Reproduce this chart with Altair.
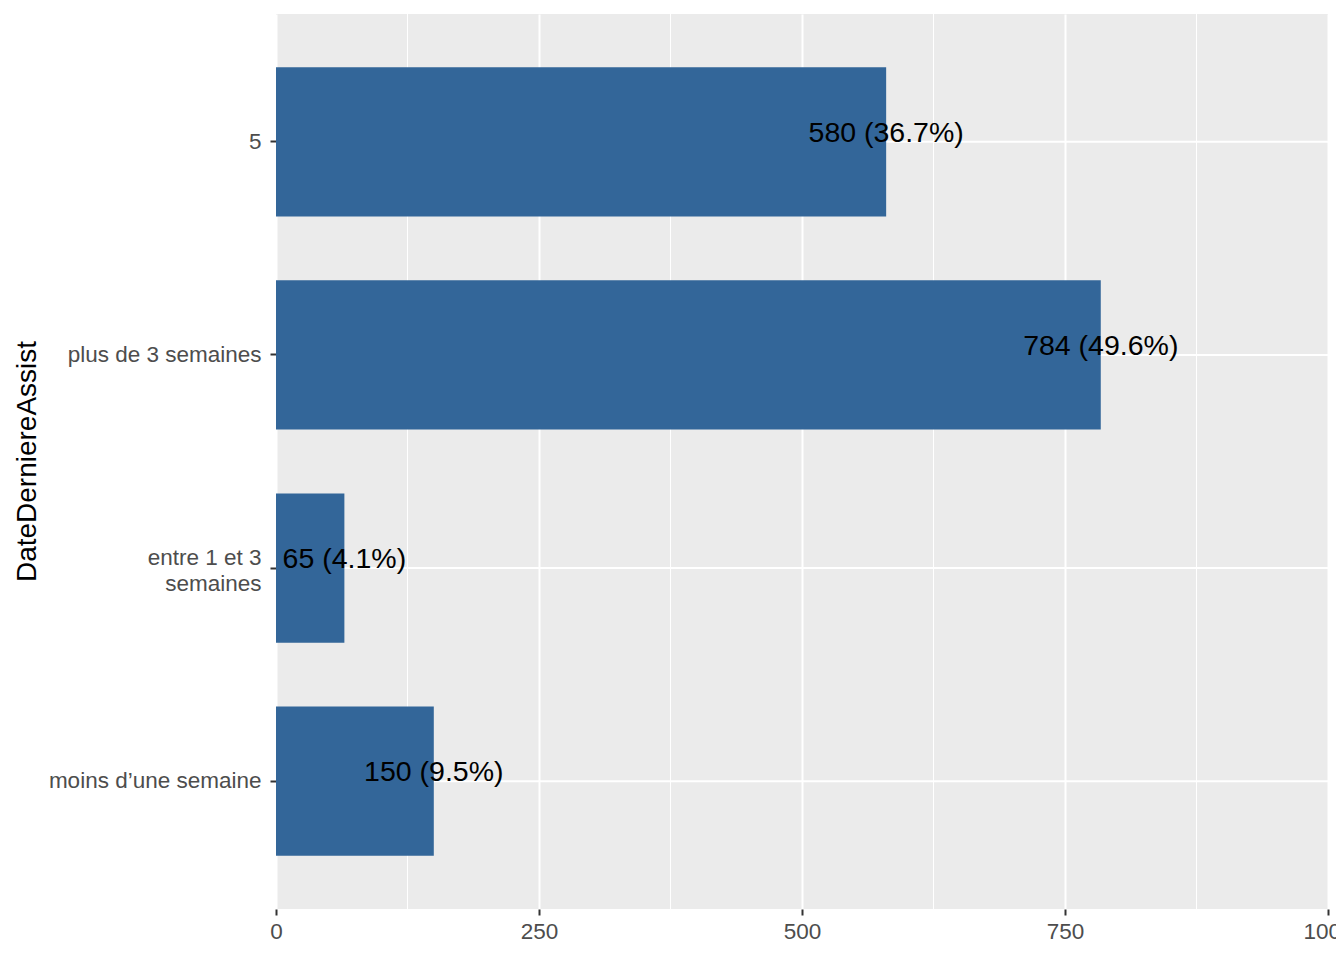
import altair as alt
import pandas as pd

categories = ["5", "plus de 3 semaines", "entre 1 et 3 semaines", "moins d\u2019une semaine"]
counts = [580, 784, 65, 150]
labels = ["580 (36.7%)", "784 (49.6%)", "65 (4.1%)", "150 (9.5%)"]
minor_ticks = [125, 375, 625, 875]
major_ticks = [0, 250, 500, 750, 1000]

df = pd.DataFrame({"cat": categories, "n": counts, "lab": labels})
minor_df = pd.DataFrame({"v": minor_ticks})

FONT = "Liberation Sans"

yscale = alt.Scale(domain=categories, paddingInner=0.3, paddingOuter=0.25)
xscale = alt.Scale(domain=[0, 1000], nice=False, zero=True)

label_expr = "datum.label == 'entre 1 et 3 semaines' ? ['entre 1 et 3', 'semaines'] : datum.label"

base = alt.Chart(df)

minor = alt.Chart(minor_df).mark_rule(color="white", strokeWidth=1).encode(
    x=alt.X("v:Q", scale=xscale)
)

hgrid = base.mark_rule(color="white", strokeWidth=2).encode(
    y=alt.Y("cat:N", scale=yscale, sort=categories)
)

bars = base.mark_bar(color="#336699").encode(
    x=alt.X(
        "n:Q",
        scale=xscale,
        axis=alt.Axis(
            values=major_ticks,
            format="d",
            title=None,
            grid=True,
            gridColor="white",
            gridWidth=2,
            domain=False,
            tickColor="#333333",
            tickSize=6,
            tickWidth=2,
            labelColor="#4D4D4D",
            labelFont=FONT,
            labelFontSize=22.5,
            labelPadding=5,
            labelFlush=False,
            labelOverlap=False,
        ),
    ),
    y=alt.Y(
        "cat:N",
        scale=yscale,
        sort=categories,
        axis=alt.Axis(
            title="DateDerniereAssist",
            grid=False,
            domain=False,
            tickColor="#333333",
            tickSize=6,
            tickWidth=2,
            labelColor="#4D4D4D",
            labelFont=FONT,
            labelFontSize=22.5,
            labelPadding=9,
            labelLimit=0,
            labelLineHeight=26,
            labelExpr=label_expr,
            labelOffset={
                "condition": {"test": "datum.value == 'entre 1 et 3 semaines'", "value": -10},
                "value": 0,
            },
            titleFont=FONT,
            titleFontSize=28,
            titleFontWeight="normal",
            titleColor="black",
            titleX=-249,
            titleY=447,
            titleBaseline="middle",
            titleAlign="center",
            titleAngle=270,
        ),
    ),
)

text = base.mark_text(
    font=FONT, fontSize=28.5, color="black", align="center", baseline="middle", dy=-9
).encode(
    x=alt.X("n:Q", scale=xscale),
    y=alt.Y("cat:N", scale=yscale, sort=categories),
    text="lab:N",
)

chart = (
    alt.layer(minor, hgrid, bars, text)
    .properties(
        width=1052,
        height=895,
        autosize=alt.AutoSizeParams(type="none"),
        padding={"left": 268, "top": 6, "right": 8, "bottom": 36},
        background="white",
    )
    .configure_view(fill="#EBEBEB", stroke=None)
)

chart.save("out.html", embed_options={"renderer": "svg", "actions": False})
